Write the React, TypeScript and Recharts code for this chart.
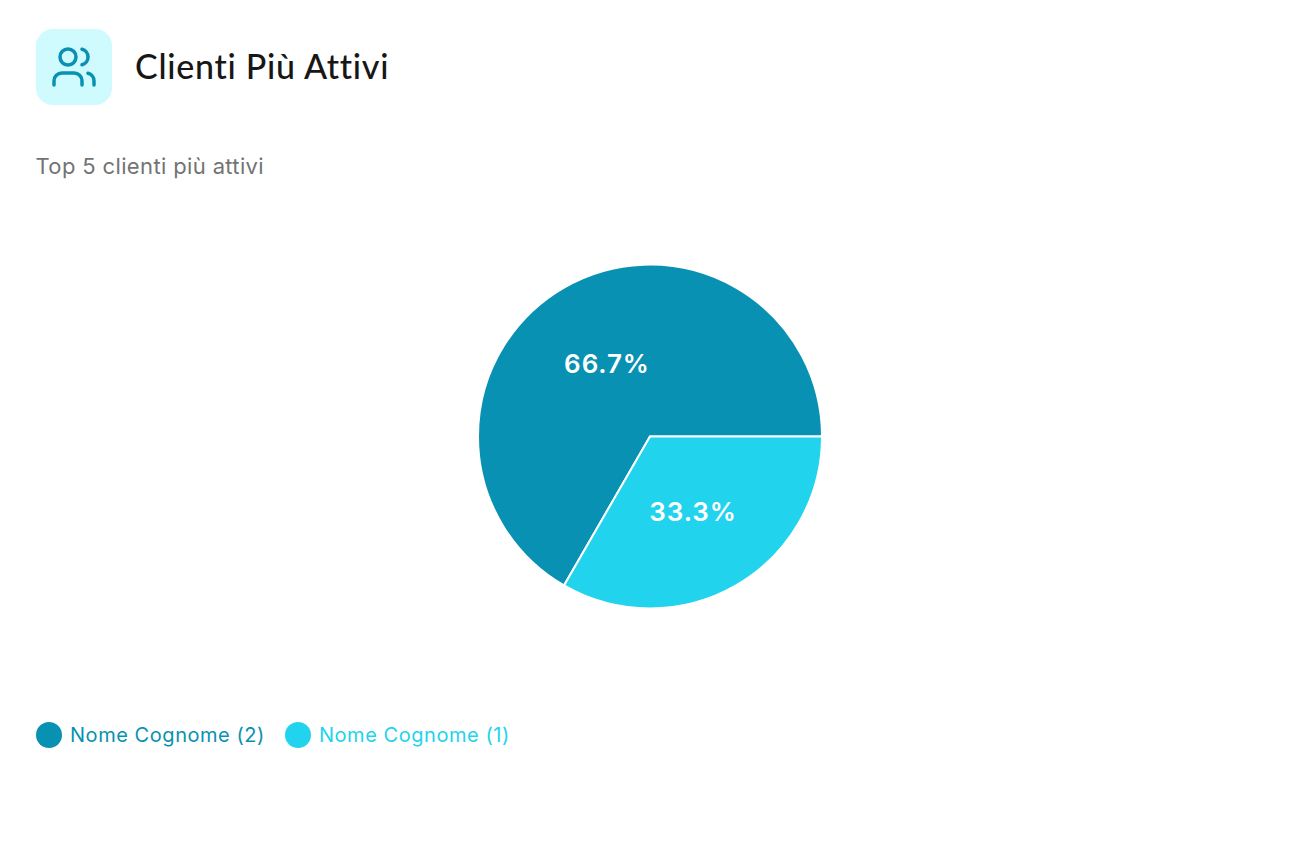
import { Legend, Pie, PieChart } from "recharts";

const clientNames = ["Nome Cognome (2)", "Nome Cognome (1)"];
const clientCounts = [2, 1];
const sliceColors = ["#0891b2", "#22d3ee"];

const data = clientNames.map((name, i) => ({
  name,
  value: clientCounts[i],
  fill: sliceColors[i],
}));

const RADIAN = Math.PI / 180;

function renderLabel({ cx, cy, midAngle, outerRadius, percent }: any) {
  const r = outerRadius * 0.5;
  const x = cx + r * Math.cos(-midAngle * RADIAN);
  const y = cy + r * Math.sin(-midAngle * RADIAN);
  return (
    <text
      x={x}
      y={y}
      dy={1}
      fill="#ffffff"
      textAnchor="middle"
      dominantBaseline="central"
      fontFamily="Inter"
      fontSize={26}
      fontWeight={600}
      letterSpacing={0.9}
    >
      {`${(percent * 100).toFixed(1)}%`}
    </text>
  );
}

function renderLegend() {
  return (
    <div style={{ display: "flex", gap: 20 }}>
      {clientNames.map((name, i) => (
        <div key={name} style={{ display: "flex", alignItems: "center", gap: 8 }}>
          <span
            style={{ width: 26, height: 26, borderRadius: "50%", background: sliceColors[i] }}
          />
          <span style={{ fontFamily: "Inter", fontSize: 20, letterSpacing: 0.55, color: sliceColors[i] }}>
            {name}
          </span>
        </div>
      ))}
    </div>
  );
}

export default function App() {
  return (
    <div style={{ position: "absolute", left: 0, top: 0, width: 1300, height: 860, background: "#fff" }}>
      <div
        style={{
          position: "absolute",
          left: 36,
          top: 29,
          width: 76,
          height: 76,
          borderRadius: 17,
          background: "#cffafe",
          display: "flex",
          alignItems: "center",
          justifyContent: "center",
        }}
      >
        <svg
          width="48"
          height="48"
          viewBox="0 0 24 24"
          fill="none"
          stroke="#0891b2"
          strokeWidth="1.75"
          strokeLinecap="round"
          strokeLinejoin="round"
        >
          <path d="M16 21v-2a4 4 0 0 0-4-4H6a4 4 0 0 0-4 4v2" />
          <circle cx="9" cy="7" r="4" />
          <path d="M22 21v-2a4 4 0 0 0-3-3.87" />
          <path d="M16 3.13a4 4 0 0 1 0 7.75" />
        </svg>
      </div>
      <div
        style={{
          position: "absolute",
          left: 135,
          top: 45,
          fontFamily: "Lato",
          fontSize: 34,
          fontWeight: 500,
          letterSpacing: 0.72,
          lineHeight: "42px",
          color: "#171717",
          whiteSpace: "nowrap",
        }}
      >
        Clienti Più Attivi
      </div>
      <div
        style={{
          position: "absolute",
          left: 35.5,
          top: 152,
          fontFamily: "Inter",
          fontSize: 22,
          letterSpacing: 0.36,
          lineHeight: "28px",
          color: "#737373",
          whiteSpace: "nowrap",
        }}
      >
        Top 5 clienti più attivi
      </div>
      <PieChart
        width={1300}
        height={860}
        margin={{ top: 0, right: 0, bottom: 0, left: 0 }}
        style={{ position: "absolute", left: 0, top: 0 }}
      >
        <Pie
          data={data}
          dataKey="value"
          nameKey="name"
          cx={650}
          cy={436.5}
          outerRadius={172}
          stroke="#ffffff"
          strokeWidth={2}
          label={renderLabel}
          labelLine={false}
          isAnimationActive={false}
        />
        <Legend
          content={renderLegend}
          wrapperStyle={{ position: "absolute", left: 36, top: 722, width: "auto" }}
        />
      </PieChart>
    </div>
  );
}
